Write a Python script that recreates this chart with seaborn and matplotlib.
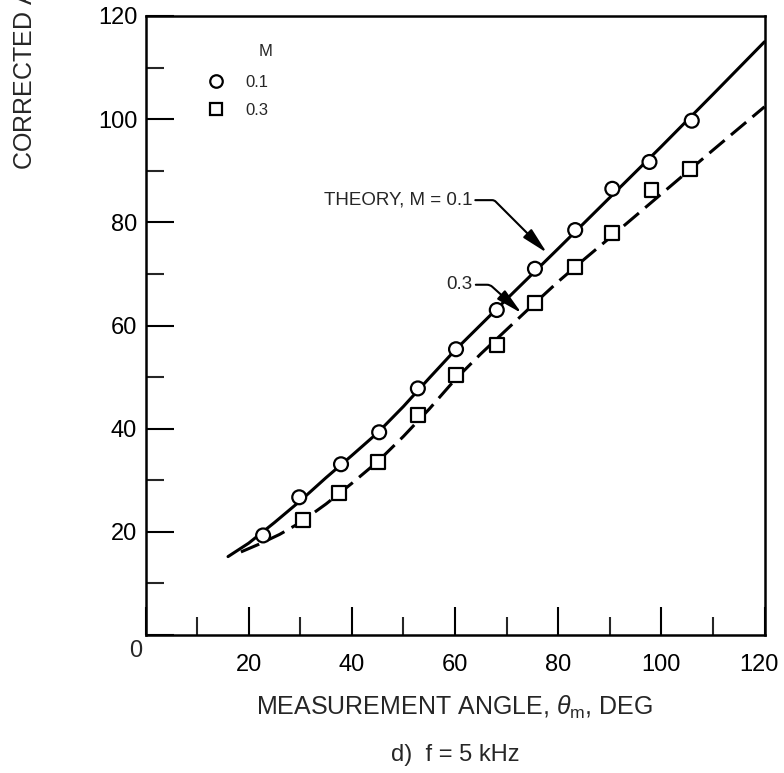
import numpy as np
import pandas as pd
import seaborn as sns
import matplotlib
matplotlib.use("Agg")
import matplotlib.pyplot as plt
from matplotlib.lines import Line2D
from matplotlib.transforms import ScaledTranslation

# ---------------- data ----------------
theory_m01_angle = [16, 20, 25, 30, 35, 40, 45, 50, 55, 60, 70, 80, 90, 100, 110, 120]
theory_m01_corr = [15.2, 17.8, 21.8, 26.0, 30.5, 34.8, 39.2, 44.3, 49.8, 55.2, 65.1, 74.9, 84.8, 94.7, 104.8, 115.0]

theory_m03_angle = [18.5, 22, 26, 30, 35, 40, 45, 50, 55, 60, 65, 70, 75, 80, 85, 90, 100, 110, 120]
theory_m03_corr = [16.1, 17.6, 19.5, 21.8, 25.4, 29.4, 33.6, 38.5, 43.8, 49.5, 54.5, 59.2, 63.9,
                   68.5, 72.8, 77.0, 85.5, 94.0, 102.4]

meas_m01_angle = [22.8, 29.8, 37.9, 45.3, 52.8, 60.2, 68.1, 75.5, 83.3, 90.5, 97.7, 105.9]
meas_m01_corr = [19.3, 26.7, 33.1, 39.3, 47.8, 55.4, 63.0, 71.0, 78.5, 86.5, 91.7, 99.7]

meas_m03_angle = [30.6, 37.5, 45.1, 52.9, 60.2, 68.1, 75.5, 83.3, 90.5, 98.1, 105.6]
meas_m03_corr = [22.3, 27.5, 33.6, 42.6, 50.4, 56.2, 64.4, 71.3, 78.0, 86.3, 90.3]

mach_labels = ["0.1", "0.3"]
x_ticks = [0, 20, 40, 60, 80, 100, 120]
x_ticklabels = ["", "20", "40", "60", "80", "100", "120"]
y_ticks = [0, 20, 40, 60, 80, 100, 120]
y_ticklabels = ["", "20", "40", "60", "80", "100", "120"]
minor_ticks = [10, 30, 50, 70, 90, 110]

# ---------------- style ----------------
sns.set_theme(style="ticks")
plt.rcParams["font.family"] = ["Liberation Sans", "DejaVu Sans"]
plt.rcParams["mathtext.fontset"] = "custom"
plt.rcParams["mathtext.rm"] = "Liberation Sans"
plt.rcParams["mathtext.it"] = "Liberation Sans:italic"

W, H = 784, 773
fig = plt.figure(figsize=(W / 100, H / 100), dpi=100)
left_px, right_px, top_px, bottom_px = 145.5, 764.5, 16, 635
ax = fig.add_axes([left_px / W, 1 - bottom_px / H,
                   (right_px - left_px) / W, (bottom_px - top_px) / H])

lines_df = pd.concat([
    pd.DataFrame({"angle": theory_m01_angle, "corr": theory_m01_corr, "M": mach_labels[0]}),
    pd.DataFrame({"angle": theory_m03_angle, "corr": theory_m03_corr, "M": mach_labels[1]}),
])
pts_df = pd.concat([
    pd.DataFrame({"angle": meas_m01_angle, "corr": meas_m01_corr, "M": mach_labels[0]}),
    pd.DataFrame({"angle": meas_m03_angle, "corr": meas_m03_corr, "M": mach_labels[1]}),
])

lw = 2.2
sns.lineplot(data=lines_df[lines_df.M == "0.1"], x="angle", y="corr", color="black",
             lw=lw, ax=ax, legend=False, sort=False, zorder=2)
sns.lineplot(data=lines_df[lines_df.M == "0.3"], x="angle", y="corr", color="black",
             lw=lw, ax=ax, legend=False, sort=False, zorder=2, linestyle=(0, (6.5, 2.7)))

sns.scatterplot(data=pts_df, x="angle", y="corr", style="M",
                markers={"0.1": "o", "0.3": "s"}, s=100, facecolor="white",
                edgecolor="black", linewidth=1.6, ax=ax, legend=False, zorder=3)

# ---------------- axes ----------------
ax.set_xlim(0, 120)
ax.set_ylim(0, 120)
ax.set_xticks(x_ticks)
ax.set_xticklabels(x_ticklabels)
ax.set_yticks(y_ticks)
ax.set_yticklabels(y_ticklabels)
ax.set_xticks(minor_ticks, minor=True)
ax.set_yticks(minor_ticks, minor=True)
ax.tick_params(axis="both", which="major", direction="in", length=20, width=1.5,
               labelsize=17, color="black", labelcolor="black")
ax.tick_params(axis="both", which="minor", direction="in", length=13, width=1.5)
ax.tick_params(axis="x", which="major", pad=14)
ax.tick_params(axis="y", which="major", pad=6)
ax.tick_params(top=False, right=False, which="both")
for s in ax.spines.values():
    s.set_linewidth(1.8)
    s.set_color("black")
ax.set_xlabel("")
ax.set_ylabel("")

# last x tick label sits slightly left of its tick in the reference
last_lab = ax.xaxis.get_major_ticks()[-1].label1
last_lab.set_transform(last_lab.get_transform()
                       + ScaledTranslation(-6 / 100, 0, fig.dpi_scale_trans))

# corner zero
fig.text(136 / W, 1 - 651 / H, "0", fontsize=17, ha="center", va="center")

# axis titles
fig.text(455 / W, 1 - 707 / H, r"MEASUREMENT ANGLE, $\theta_{\mathrm{m}}$, DEG",
         fontsize=18, ha="center", va="center")
fig.text(455 / W, 1 - 755 / H, "d)  f = 5 kHz", fontsize=17, ha="center", va="center")
fig.text(25 / W, 1 - 170 / H, r"CORRECTED ANGLE, $\theta_{\mathrm{c}}$, DEG",
         fontsize=18, ha="center", va="bottom", rotation=90)

# legend
handles = [Line2D([], [], marker="o", ls="none", ms=9, mfc="white", mec="black", mew=1.6),
           Line2D([], [], marker="s", ls="none", ms=9, mfc="white", mec="black", mew=1.6)]
ax.legend(handles, mach_labels, loc="upper left", bbox_to_anchor=(0.100, 0.905),
          frameon=False, fontsize=12, handlelength=1.0, handletextpad=1.3,
          labelspacing=0.8, borderpad=0, borderaxespad=0)
fig.text(266 / W, 1 - 52 / H, "M", fontsize=12, ha="center", va="center")

# annotations
arrow_kw = dict(arrowstyle="-|>,head_length=0.8,head_width=0.18", color="black",
                lw=1.5, shrinkA=0, shrinkB=0, mutation_scale=20)
ax.annotate("THEORY, M = 0.1", xy=(77.8, 74.1), xytext=(63.3, 84.3), fontsize=13.5,
            ha="right", va="center",
            arrowprops=dict(**arrow_kw, connectionstyle="angle,angleA=0,angleB=-45,rad=2"))
ax.annotate("0.3", xy=(72.9, 62.4), xytext=(63.4, 67.9), fontsize=13.5,
            ha="right", va="center",
            arrowprops=dict(**arrow_kw, connectionstyle="angle,angleA=0,angleB=-42,rad=3"))

fig.savefig("out.png", dpi=100, facecolor="white")
